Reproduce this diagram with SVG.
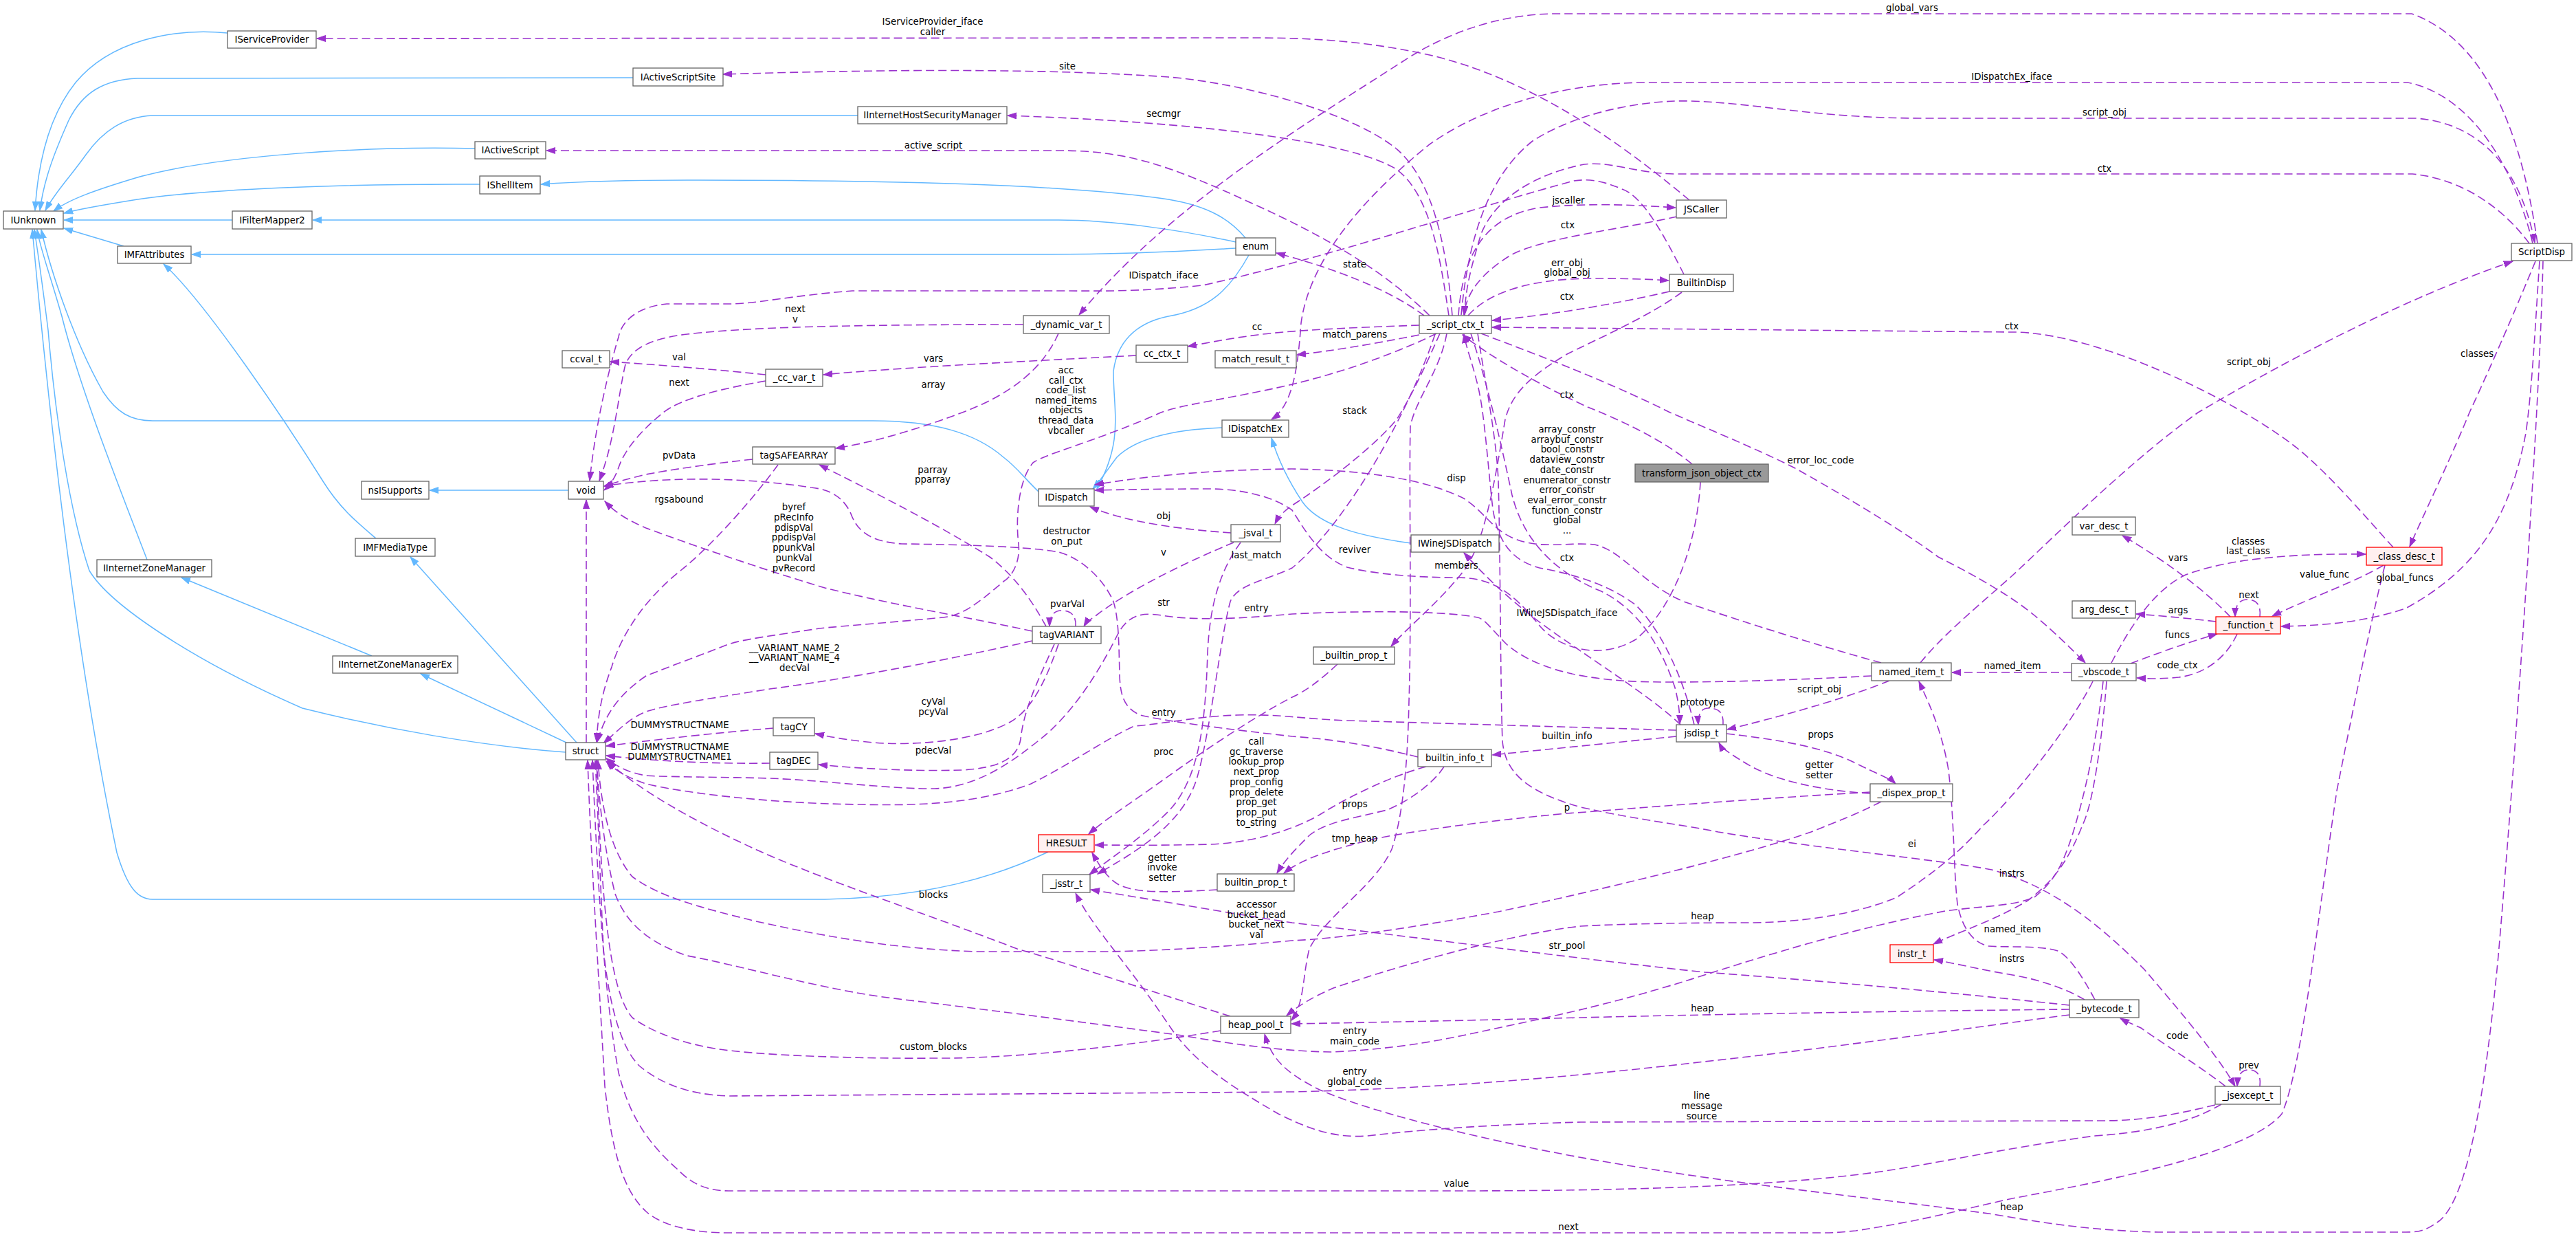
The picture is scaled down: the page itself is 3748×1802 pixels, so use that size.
<svg xmlns="http://www.w3.org/2000/svg" width="3748" height="1802" viewBox="0 0 3748 1802">
<style>
.nd rect{fill:#fff;stroke:#666;stroke-width:1.3}
.rd rect{fill:#fff0f0;stroke:#f00;stroke-width:1.3}
.gd rect{fill:#999;stroke:#666;stroke-width:1.3}
text{font-family:"DejaVu Sans",sans-serif;font-size:13.33px;fill:#000;text-anchor:middle}
.u{fill:none;stroke:#9a32cd;stroke-width:1.6;stroke-dasharray:12,6;marker-end:url(#ap)}
.i{fill:none;stroke:#63b8ff;stroke-width:1.5;marker-end:url(#ab)}
</style>
<defs>
<marker id="ap" markerUnits="userSpaceOnUse" markerWidth="14" markerHeight="10" viewBox="0 0 14 10" refX="13" refY="5" orient="auto"><path d="M0,0.5 L13,5 L0,9.5 z" fill="#9a32cd" stroke="#9a32cd" stroke-width="1"/></marker>
<marker id="ab" markerUnits="userSpaceOnUse" markerWidth="14" markerHeight="10" viewBox="0 0 14 10" refX="13" refY="5" orient="auto"><path d="M0,0.5 L13,5 L0,9.5 z" fill="#63b8ff" stroke="#63b8ff" stroke-width="1"/></marker>
</defs>
<rect width="3748" height="1802" fill="#fff"/>
<g id="edges">
<path class="i" d="M331,48 C250,40 160,60 110,120 C70,170 55,240 51,306"/>
<path class="i" d="M921,113 L200,114 C150,116 120,135 100,175 C80,220 64,260 58,306"/>
<path class="i" d="M1248,168 L222,168 C180,170 150,190 125,225 C100,260 80,280 66,306"/>
<path class="i" d="M691,216 C540,212 320,225 200,258 C140,276 100,290 78,307"/>
<path class="i" d="M698,268 C500,267 300,275 200,290 C150,298 115,304 93,310"/>
<path class="i" d="M338,320 L93,320"/>
<path class="i" d="M180,358 L93,332"/>
<path class="i" d="M1812,346 C1790,320 1760,300 1700,290 C1550,268 1300,262 1000,262 C900,262 830,265 787,268"/>
<path class="i" d="M1798,352 C1720,335 1620,320 1540,320 L455,320"/>
<path class="i" d="M1798,361 C1700,367 1600,370 1520,370 L279,370"/>
<path class="i" d="M547,783 C520,760 495,740 470,700 C420,620 300,440 238,384"/>
<path class="i" d="M839,1080 L597,810"/>
<path class="i" d="M824,1080 L612,980"/>
<path class="i" d="M541,954 L264,840"/>
<path class="i" d="M214,814 C170,700 115,560 90,460 C70,390 58,360 54,334"/>
<path class="i" d="M823,1094 C700,1085 560,1060 440,1030 C280,960 160,880 130,830 C100,740 80,600 70,480 C60,400 54,360 50,334"/>
<path class="i" d="M1511,715 C1490,695 1480,680 1460,665 C1420,630 1360,612 1270,612 L222,612 C190,612 170,600 150,570 C110,500 75,400 60,334"/>
<path class="i" d="M1525,1239 C1450,1275 1350,1305 1200,1308 L222,1308 C200,1308 185,1290 170,1240 C120,1000 80,700 47,334"/>
<path class="i" d="M1778,622 C1700,625 1650,640 1625,665 C1610,685 1600,700 1590,711"/>
<path class="i" d="M1817,371 C1790,420 1760,450 1700,460 C1650,470 1625,500 1620,540 C1620,600 1635,640 1596,711"/>
<path class="i" d="M2053,790 C1980,780 1920,765 1895,730 C1875,700 1860,670 1850,637"/>
<path class="i" d="M827,713 L625,713"/>

<path class="u" d="M2458,291 C2390,235 2250,120 2080,80 C1980,58 1900,55 1820,55 L461,56"/>
<path class="u" d="M2113,459 C2105,360 2085,260 2030,215 C1960,160 1800,120 1700,112 C1500,98 1250,102 1052,108"/>
<path class="u" d="M2108,459 C2095,370 2080,280 2030,245 C1960,205 1750,178 1466,168"/>
<path class="u" d="M2080,459 C2010,390 1920,340 1820,295 C1700,240 1640,219 1540,219 L795,219"/>
<path class="u" d="M2122,459 C2128,370 2160,315 2240,302 C2320,294 2390,299 2438,302"/>
<path class="u" d="M2440,315 C2350,335 2250,345 2200,370 C2150,400 2133,430 2130,458"/>
<path class="u" d="M2136,459 C2170,420 2240,406 2310,405 C2370,405 2400,406 2428,408"/>
<path class="u" d="M2429,424 C2350,442 2260,458 2171,466"/>
<path class="u" d="M2450,399 C2420,340 2390,285 2360,275 C2330,262 2310,260 2290,263 C2150,300 1950,370 1750,415 C1650,425 1600,423 1540,423 L1240,423 C1150,430 1100,442 1060,442 L970,442 C930,446 905,465 900,490 C885,540 866,620 858,699"/>
<path class="u" d="M2072,459 C2020,420 1940,390 1857,368"/>
<path class="u" d="M2065,473 C1980,476 1880,480 1830,487 C1790,492 1760,498 1728,504"/>
<path class="u" d="M2065,487 C2000,500 1940,510 1887,516"/>
<path class="u" d="M2090,485 C2040,510 1960,540 1880,559 C1790,580 1720,588 1689,600 C1600,640 1520,660 1503,673 C1480,700 1478,760 1482,791 C1485,820 1470,840 1461,845 C1420,880 1400,895 1372,898 C1300,905 1230,910 1192,914 C1120,925 1080,930 1060,937 C1000,960 960,975 940,983 C900,1010 880,1040 869,1079"/>
<path class="u" d="M2095,485 C2075,530 2052,580 2032,610 C2000,650 1920,710 1880,735 C1866,745 1860,752 1855,762"/>
<path class="u" d="M2462,675 C2420,640 2360,612 2310,592 C2240,560 2170,520 2128,487"/>
<path class="u" d="M2474,701 C2470,780 2440,880 2380,930 C2330,960 2270,945 2240,910 C2200,860 2170,840 2120,840 C2060,840 2000,835 1960,825 C1920,810 1898,770 1880,742 C1850,720 1800,711 1760,711 C1700,711 1640,712 1593,713"/>
<path class="u" d="M3692,354 C3670,200 3620,60 3509,20 L2264,20 C2180,20 2100,50 2040,90 C1900,180 1700,300 1570,458"/>
<path class="u" d="M3685,354 C3660,250 3600,140 3503,120 L2390,120 C2260,122 2150,160 2080,210 C1980,290 1905,380 1893,470 C1888,540 1880,590 1850,610"/>
<path class="u" d="M2126,458 C2135,360 2160,260 2230,205 C2300,160 2400,145 2460,147 C2560,150 2640,172 2800,172 L3515,172 C3620,180 3670,260 3688,353"/>
<path class="u" d="M3680,354 C3640,300 3580,260 3510,253 L2440,253 C2380,253 2340,232 2300,240 C2230,255 2175,290 2155,340 C2140,390 2132,420 2131,458"/>
<path class="u" d="M3482,796 C3440,750 3390,690 3340,650 C3250,580 3050,483 2928,483 L2171,476"/>
<path class="u" d="M2794,964 C2830,920 2880,880 2928,837 C3000,770 3100,670 3198,600 C3300,540 3480,440 3656,380"/>
<path class="u" d="M3689,380 C3660,450 3630,520 3593,600 C3560,680 3530,740 3506,795"/>
<path class="u" d="M3695,380 C3690,450 3685,560 3675,630 C3650,760 3600,830 3500,885 C3440,905 3380,910 3319,911"/>
<path class="u" d="M3700,380 C3695,600 3660,1100 3635,1390 C3615,1600 3590,1740 3550,1775 C3530,1790 3520,1792 3500,1792 L3140,1792 C3050,1790 2980,1780 2900,1766 C2750,1745 2550,1725 2400,1700 C2200,1670 2000,1620 1920,1585 C1870,1560 1850,1540 1840,1504"/>
<path class="u" d="M3470,822 C3450,900 3420,1050 3400,1150 C3370,1350 3350,1550 3320,1620 C3270,1680 3050,1720 2928,1743 C2850,1760 2800,1775 2700,1790 C2680,1792 2670,1793 2650,1793 L1060,1793 C1000,1793 960,1780 940,1762 C905,1730 890,1670 880,1580 C870,1400 860,1250 855,1106"/>
<path class="u" d="M3232,1606 C3200,1625 3150,1645 3048,1652 C2950,1665 2850,1685 2780,1697 C2650,1720 2450,1732 2120,1732 L1060,1732 C1020,1732 1000,1715 985,1700 C940,1660 915,1620 900,1560 C880,1450 870,1300 862,1106"/>
<path class="u" d="M3223,1607 C3170,1620 3120,1630 3060,1630 L2300,1632 C2150,1636 2050,1645 1990,1652 C1940,1656 1900,1640 1860,1620 C1800,1585 1740,1550 1700,1490 C1640,1400 1590,1350 1565,1299"/>
<path class="u" d="M1790,1478 C1700,1450 1550,1400 1480,1380 C1350,1330 1200,1280 1110,1240 C1020,1200 930,1150 884,1107"/>
<path class="u" d="M853,1080 L853,727"/>
<path class="u" d="M1776,1499 C1650,1520 1480,1540 1360,1539 C1250,1540 1100,1535 1040,1525 C980,1515 940,1495 920,1480 C885,1440 875,1300 868,1106"/>
<path class="u" d="M2737,1166 C2700,1185 2660,1200 2635,1210 C2550,1240 2350,1290 2180,1326 C2050,1350 1950,1365 1880,1368 C1750,1380 1650,1384 1600,1384 L1420,1384 C1300,1380 1200,1362 1100,1340 C1020,1320 960,1305 920,1275 C890,1240 875,1180 870,1106"/>
<path class="u" d="M2721,1152 C2500,1165 2350,1178 2280,1183 C2150,1195 2050,1210 2000,1220 C1940,1235 1895,1248 1868,1270"/>
<path class="u" d="M3011,1462 C2900,1450 2700,1430 2480,1414 C2300,1395 2100,1368 1880,1342 C1800,1330 1700,1312 1587,1294"/>
<path class="u" d="M3011,1468 C2800,1470 2500,1475 2300,1480 C2100,1485 1950,1488 1879,1489"/>
<path class="u" d="M3011,1476 C2900,1490 2700,1520 2480,1544 C2300,1565 2100,1583 1880,1588 L1060,1594 C1000,1592 960,1575 930,1550 C900,1520 885,1450 878,1380 C872,1250 870,1180 866,1106"/>
<path class="u" d="M3060,991 C3050,1080 3035,1150 3015,1215 C3000,1260 2990,1280 2960,1305 C2930,1318 2880,1318 2830,1325 C2700,1350 2600,1380 2480,1418 C2350,1460 2250,1480 2180,1495 C2100,1512 2050,1524 1940,1530 C1880,1530 1800,1520 1720,1506 C1600,1490 1450,1470 1300,1452 C1200,1440 1080,1405 1000,1390 C940,1370 910,1340 895,1300 C880,1240 872,1170 868,1106"/>
<path class="u" d="M3045,991 C3010,1060 2930,1160 2886,1200 C2850,1240 2820,1265 2760,1305 C2700,1330 2620,1342 2540,1342 C2450,1342 2350,1344 2300,1347 C2200,1358 2050,1400 1940,1437 C1910,1450 1890,1462 1872,1477"/>
<path class="u" d="M3065,991 C3058,1080 3045,1170 3030,1200 C3010,1250 2990,1280 2950,1310 C2900,1340 2850,1355 2813,1373"/>
<path class="u" d="M3033,1454 C3010,1440 2970,1425 2928,1418 C2880,1410 2840,1400 2814,1396"/>
<path class="u" d="M3048,1454 C3030,1420 3010,1390 2994,1383 C2970,1375 2920,1378 2892,1376 C2870,1370 2855,1350 2848,1315 C2842,1260 2844,1200 2835,1120 C2825,1060 2805,1020 2792,991"/>
<path class="u" d="M3238,1580 C3200,1550 3150,1520 3115,1495 C3100,1488 3092,1485 3085,1481"/>
<path class="u" d="M3288,1580 C3290,1565 3285,1556 3272,1556 C3262,1556 3256,1562 3255,1580"/>
<path class="u" d="M2150,485 C2160,550 2178,640 2180,700 C2183,800 2183,1000 2186,1078 C2190,1120 2215,1150 2300,1174 C2380,1192 2440,1198 2500,1210 C2650,1235 2820,1250 2898,1265 C2990,1290 3060,1350 3120,1410 C3180,1480 3230,1540 3252,1580"/>
<path class="u" d="M2155,485 C2220,510 2330,550 2430,600 C2500,630 2560,655 2610,680 C2700,730 2780,780 2820,810 C2880,840 2930,870 2960,895 C2990,920 3015,945 3034,964"/>
<path class="u" d="M2447,425 C2400,460 2320,495 2280,515 C2230,545 2200,570 2190,610 C2175,700 2160,790 2130,830 C2090,880 2050,910 2024,940"/>
<path class="u" d="M1771,1294 C1700,1298 1650,1300 1625,1285 C1610,1275 1600,1260 1589,1240"/>
<path class="u" d="M1946,966 C1920,990 1900,1005 1880,1014 C1820,1045 1740,1100 1690,1136 C1650,1165 1610,1190 1584,1213"/>
<path class="u" d="M2075,1115 C2020,1130 1960,1160 1920,1185 C1880,1208 1820,1226 1760,1228 C1680,1230 1630,1229 1593,1229"/>
<path class="u" d="M2101,1115 C2085,1140 2050,1165 2018,1178 C1970,1190 1930,1195 1905,1215 C1885,1235 1870,1250 1858,1270"/>
<path class="u" d="M2105,485 C2095,540 2060,580 2052,620 C2050,700 2054,900 2050,1020 C2048,1120 2040,1190 2025,1235 C2000,1290 1930,1330 1905,1380 C1895,1420 1898,1460 1879,1484"/>
<path class="u" d="M2445,1054 C2410,1020 2340,975 2290,940 C2230,900 2180,860 2130,804"/>
<path class="u" d="M2140,485 C2165,560 2185,650 2200,720 C2220,800 2280,840 2330,860 C2390,890 2420,950 2437,1000 C2442,1020 2444,1035 2444,1053"/>
<path class="u" d="M2465,1054 C2450,990 2420,920 2380,880 C2340,850 2290,835 2240,826 C2200,815 2180,790 2172,740 C2165,680 2160,600 2150,560 C2140,520 2133,505 2130,486"/>
<path class="u" d="M2749,990 C2700,1010 2620,1035 2513,1061"/>
<path class="u" d="M2439,1071 C2350,1080 2250,1090 2171,1098"/>
<path class="u" d="M2512,1067 C2580,1075 2650,1085 2700,1110 C2730,1125 2750,1132 2758,1140"/>
<path class="u" d="M2721,1154 C2650,1150 2580,1135 2540,1110 C2515,1095 2505,1088 2501,1080"/>
<path class="u" d="M2507,1054 C2508,1035 2500,1030 2485,1030 C2475,1030 2470,1040 2471,1054"/>
<path class="u" d="M2737,964 C2650,940 2540,906 2450,875 C2390,850 2360,800 2320,792 C2280,788 2240,800 2200,782 C2170,768 2160,745 2130,725 C2080,700 2000,684 1880,682 C1780,683 1680,690 1593,705"/>
<path class="u" d="M2723,983 C2600,990 2420,995 2360,990 C2290,985 2230,970 2192,937 C2170,915 2160,900 2150,898 C2100,888 1980,888 1880,893 C1800,900 1740,903 1690,895 C1660,890 1640,895 1625,925 C1600,975 1560,1040 1510,1078 C1470,1110 1420,1145 1360,1147 C1300,1148 1200,1135 1120,1132 C1050,1130 960,1130 940,1128 C915,1124 900,1116 882,1103"/>
<path class="u" d="M2439,1062 C2300,1058 2100,1052 1960,1048 C1900,1046 1860,1038 1800,1040 C1740,1042 1700,1052 1650,1056 C1600,1080 1560,1110 1500,1140 C1420,1170 1330,1172 1250,1170 C1100,1168 980,1150 940,1140 C910,1130 895,1120 882,1107"/>
<path class="u" d="M2063,1101 C2000,1085 1940,1075 1880,1071 C1800,1062 1700,1050 1659,1040 C1635,1030 1630,1010 1629,983 C1628,940 1628,900 1620,875 C1605,840 1570,810 1540,803 C1500,795 1400,792 1312,791 C1270,788 1250,775 1240,752 C1230,725 1210,712 1180,709 C1120,700 1060,696 1000,697 C950,698 910,702 879,707"/>
<path class="u" d="M1791,775 C1720,770 1640,760 1586,737"/>
<path class="u" d="M1795,789 C1720,820 1640,860 1595,895 C1585,902 1580,906 1577,911"/>
<path class="u" d="M1805,789 C1775,830 1760,880 1757,950 C1754,1040 1748,1130 1700,1180 C1660,1220 1620,1245 1585,1272"/>
<path class="u" d="M2088,486 C2050,600 1960,760 1880,826 C1840,845 1800,850 1790,875 C1775,930 1762,1060 1742,1130 C1722,1200 1650,1240 1597,1271"/>
<path class="u" d="M1502,918 C1420,900 1300,880 1200,855 C1100,825 1000,790 940,768 C910,755 895,745 880,729"/>
<path class="u" d="M1502,932 C1400,955 1250,985 1120,1002 C1040,1015 970,1025 940,1035 C915,1045 900,1062 878,1081"/>
<path class="u" d="M1540,937 C1525,980 1505,1030 1470,1050 C1420,1078 1330,1085 1270,1080 C1230,1076 1210,1072 1186,1067"/>
<path class="u" d="M1534,937 C1510,990 1490,1030 1485,1075 C1480,1105 1450,1117 1400,1120 C1330,1122 1250,1118 1191,1112"/>
<path class="u" d="M1522,911 C1505,880 1480,840 1440,810 C1360,760 1260,710 1192,676"/>
<path class="u" d="M1565,911 C1566,895 1558,888 1545,888 C1533,888 1527,896 1527,911"/>
<path class="u" d="M1095,668 C1030,675 970,684 940,690 C910,697 895,702 879,707"/>
<path class="u" d="M1132,676 C1100,720 1040,790 990,830 C940,870 905,920 890,970 C875,1010 870,1040 868,1079"/>
<path class="u" d="M1125,1059 C1050,1065 960,1075 882,1085"/>
<path class="u" d="M1120,1110 C1050,1111 960,1108 882,1099"/>
<path class="u" d="M3245,897 C3210,860 3150,815 3088,779"/>
<path class="u" d="M3224,904 C3190,900 3150,896 3108,893"/>
<path class="u" d="M3288,897 C3290,880 3283,872 3270,872 C3258,872 3252,880 3252,897"/>
<path class="u" d="M3468,822 C3430,845 3360,870 3306,896"/>
<path class="u" d="M3072,964 C3095,920 3130,860 3180,836 C3250,810 3350,805 3442,806"/>
<path class="u" d="M3100,965 C3140,950 3180,935 3226,922"/>
<path class="u" d="M3255,922 C3240,955 3210,980 3170,985 C3140,988 3125,987 3109,986"/>
<path class="u" d="M3014,978 L2840,978"/>
<path class="u" d="M1653,517 C1500,525 1300,535 1198,545"/>
<path class="u" d="M1114,545 C1050,538 950,530 888,526"/>
<path class="u" d="M1114,554 C1050,565 990,580 965,600 C940,620 910,650 900,680 C895,695 888,705 879,713"/>
<path class="u" d="M1489,472 C1300,472 1100,474 1000,486 C950,492 920,505 910,530 C900,570 895,640 872,699"/>
<path class="u" d="M1540,485 C1520,530 1480,570 1400,600 C1320,630 1260,645 1216,652"/>

<text x="1357" y="36">IServiceProvider_iface<tspan x="1357" dy="14.9">caller</tspan></text>
<text x="1553" y="101">site</text>
<text x="1693" y="170">secmgr</text>
<text x="1358" y="216">active_script</text>
<text x="1693" y="405">IDispatch_iface</text>
<text x="1157" y="454">next<tspan x="1157" dy="15">v</tspan></text>
<text x="1829" y="480">cc</text>
<text x="988" y="524">val</text>
<text x="988" y="561">next</text>
<text x="1358" y="526">vars</text>
<text x="1358" y="564">array</text>
<text x="1551" y="543">acc<tspan x="1551" dy="14.6">call_ctx</tspan><tspan x="1551" dy="14.6">code_list</tspan><tspan x="1551" dy="14.6">named_items</tspan><tspan x="1551" dy="14.6">objects</tspan><tspan x="1551" dy="14.6">thread_data</tspan><tspan x="1551" dy="14.6">vbcaller</tspan></text>
<text x="2782" y="16">global_vars</text>
<text x="2282" y="296">jscaller</text>
<text x="2281" y="332">ctx</text>
<text x="2280" y="387">err_obj<tspan x="2280" dy="14.3">global_obj</tspan></text>
<text x="2280" y="436">ctx</text>
<text x="1971" y="389">state</text>
<text x="1971" y="491">match_parens</text>
<text x="1971" y="602">stack</text>
<text x="2280" y="579">ctx</text>
<text x="2927" y="116">IDispatchEx_iface</text>
<text x="3062" y="168">script_obj</text>
<text x="3062" y="250">ctx</text>
<text x="2927" y="479">ctx</text>
<text x="3272" y="531">script_obj</text>
<text x="3604" y="519">classes</text>
<text x="3499" y="845">global_funcs</text>
<text x="988" y="667">pvData</text>
<text x="988" y="731">rgsabound</text>
<text x="1357" y="688">parray<tspan x="1357" dy="14.3">pparray</tspan></text>
<text x="1155" y="742">byref<tspan x="1155" dy="14.8">pRecInfo</tspan><tspan x="1155" dy="14.8">pdispVal</tspan><tspan x="1155" dy="14.8">ppdispVal</tspan><tspan x="1155" dy="14.8">ppunkVal</tspan><tspan x="1155" dy="14.8">punkVal</tspan><tspan x="1155" dy="14.8">pvRecord</tspan></text>
<text x="1552" y="777">destructor<tspan x="1552" dy="14.9">on_put</tspan></text>
<text x="1693" y="755">obj</text>
<text x="1693" y="808">v</text>
<text x="1828" y="812">last_match</text>
<text x="1553" y="883">pvarVal</text>
<text x="1693" y="881">str</text>
<text x="1828" y="889">entry</text>
<text x="1156" y="947">__VARIANT_NAME_2<tspan x="1156" dy="14.3">__VARIANT_NAME_4</tspan><tspan x="1156" dy="14.3">decVal</tspan></text>
<text x="1358" y="1025">cyVal<tspan x="1358" dy="15.3">pcyVal</tspan></text>
<text x="1693" y="1041">entry</text>
<text x="989" y="1059">DUMMYSTRUCTNAME</text>
<text x="989" y="1091">DUMMYSTRUCTNAME<tspan x="989" dy="13.8">DUMMYSTRUCTNAME1</tspan></text>
<text x="1358" y="1096">pdecVal</text>
<text x="1693" y="1098">proc</text>
<text x="1828" y="1083">call<tspan x="1828" dy="14.7">gc_traverse</tspan><tspan x="1828" dy="14.7">lookup_prop</tspan><tspan x="1828" dy="14.7">next_prop</tspan><tspan x="1828" dy="14.7">prop_config</tspan><tspan x="1828" dy="14.7">prop_delete</tspan><tspan x="1828" dy="14.7">prop_get</tspan><tspan x="1828" dy="14.7">prop_put</tspan><tspan x="1828" dy="14.7">to_string</tspan></text>
<text x="2280" y="629">array_constr<tspan x="2280" dy="14.7">arraybuf_constr</tspan><tspan x="2280" dy="14.7">bool_constr</tspan><tspan x="2280" dy="14.7">dataview_constr</tspan><tspan x="2280" dy="14.7">date_constr</tspan><tspan x="2280" dy="14.7">enumerator_constr</tspan><tspan x="2280" dy="14.7">error_constr</tspan><tspan x="2280" dy="14.7">eval_error_constr</tspan><tspan x="2280" dy="14.7">function_constr</tspan><tspan x="2280" dy="14.7">global</tspan><tspan x="2280" dy="14.7">...</tspan></text>
<text x="2119" y="700">disp</text>
<text x="1971" y="804">reviver</text>
<text x="2280" y="816">ctx</text>
<text x="2119" y="827">members</text>
<text x="2280" y="896">IWineJSDispatch_iface</text>
<text x="2649" y="674">error_loc_code</text>
<text x="2477" y="1026">prototype</text>
<text x="2647" y="1007">script_obj</text>
<text x="2280" y="1075">builtin_info</text>
<text x="2649" y="1073">props</text>
<text x="2647" y="1117">getter<tspan x="2647" dy="14.6">setter</tspan></text>
<text x="1971" y="1174">props</text>
<text x="2280" y="1179">p</text>
<text x="3271" y="792">classes<tspan x="3271" dy="13.7">last_class</tspan></text>
<text x="3169" y="816">vars</text>
<text x="3382" y="840">value_func</text>
<text x="3272" y="870">next</text>
<text x="3169" y="892">args</text>
<text x="3168" y="928">funcs</text>
<text x="2928" y="973">named_item</text>
<text x="3168" y="972">code_ctx</text>
<text x="1691" y="1252">getter<tspan x="1691" dy="14.3">invoke</tspan><tspan x="1691" dy="14.3">setter</tspan></text>
<text x="1358" y="1306">blocks</text>
<text x="1828" y="1320">accessor<tspan x="1828" dy="14.6">bucket_head</tspan><tspan x="1828" dy="14.6">bucket_next</tspan><tspan x="1828" dy="14.6">val</tspan></text>
<text x="1358" y="1527">custom_blocks</text>
<text x="1971" y="1224">tmp_heap</text>
<text x="2782" y="1232">ei</text>
<text x="2477" y="1337">heap</text>
<text x="2280" y="1380">str_pool</text>
<text x="2477" y="1471">heap</text>
<text x="1971" y="1504">entry<tspan x="1971" dy="15">main_code</tspan></text>
<text x="1971" y="1563">entry<tspan x="1971" dy="14.5">global_code</tspan></text>
<text x="2476" y="1598">line<tspan x="2476" dy="14.8">message</tspan><tspan x="2476" dy="14.8">source</tspan></text>
<text x="2119" y="1726">value</text>
<text x="2282" y="1789">next</text>
<text x="2927" y="1275">instrs</text>
<text x="2928" y="1356">named_item</text>
<text x="2927" y="1399">instrs</text>
<text x="3168" y="1511">code</text>
<text x="3272" y="1554">prev</text>
<text x="2927" y="1760">heap</text>
</g>

<g id="IServiceProvider" class="nd"><rect x="331" y="45" width="129" height="25"/><text x="395.5" y="62">IServiceProvider</text></g>
<g id="IActiveScriptSite" class="nd"><rect x="921" y="99" width="131" height="26"/><text x="986.5" y="116.5">IActiveScriptSite</text></g>
<g id="IInternetHostSecurityManager" class="nd"><rect x="1248" y="155" width="217" height="25"/><text x="1356.5" y="172">IInternetHostSecurityManager</text></g>
<g id="IActiveScript" class="nd"><rect x="691" y="206" width="103" height="25"/><text x="742.5" y="223">IActiveScript</text></g>
<g id="IShellItem" class="nd"><rect x="698" y="256" width="88" height="26"/><text x="742" y="273.5">IShellItem</text></g>
<g id="IUnknown" class="nd"><rect x="5" y="307" width="87" height="26"/><text x="48.5" y="324.5">IUnknown</text></g>
<g id="IFilterMapper2" class="nd"><rect x="338" y="307" width="116" height="26"/><text x="396" y="324.5">IFilterMapper2</text></g>
<g id="IMFAttributes" class="nd"><rect x="171" y="358" width="107" height="25"/><text x="224.5" y="375">IMFAttributes</text></g>
<g id="enum" class="nd"><rect x="1798" y="346" width="58" height="25"/><text x="1827" y="363">enum</text></g>
<g id="ccval_t" class="nd"><rect x="818" y="510" width="69" height="25"/><text x="852.5" y="527">ccval_t</text></g>
<g id="_dynamic_var_t" class="nd"><rect x="1489" y="459" width="125" height="26"/><text x="1551.5" y="476.5">_dynamic_var_t</text></g>
<g id="_cc_var_t" class="nd"><rect x="1114" y="537" width="83" height="25"/><text x="1155.5" y="554">_cc_var_t</text></g>
<g id="cc_ctx_t" class="nd"><rect x="1653" y="502" width="75" height="25"/><text x="1690.5" y="519">cc_ctx_t</text></g>
<g id="match_result_t" class="nd"><rect x="1768" y="510" width="118" height="25"/><text x="1827" y="527">match_result_t</text></g>
<g id="_script_ctx_t" class="nd"><rect x="2065" y="459" width="105" height="26"/><text x="2117.5" y="476.5">_script_ctx_t</text></g>
<g id="JSCaller" class="nd"><rect x="2439" y="291" width="73" height="26"/><text x="2475.5" y="308.5">JSCaller</text></g>
<g id="BuiltinDisp" class="nd"><rect x="2429" y="399" width="93" height="25"/><text x="2475.5" y="416">BuiltinDisp</text></g>
<g id="ScriptDisp" class="nd"><rect x="3654" y="354" width="88" height="25"/><text x="3698" y="371">ScriptDisp</text></g>
<g id="nsISupports" class="nd"><rect x="526" y="700" width="98" height="26"/><text x="575" y="717.5">nsISupports</text></g>
<g id="void" class="nd"><rect x="827" y="700" width="51" height="26"/><text x="852.5" y="717.5">void</text></g>
<g id="IMFMediaType" class="nd"><rect x="517" y="783" width="116" height="26"/><text x="575" y="800.5">IMFMediaType</text></g>
<g id="IInternetZoneManager" class="nd"><rect x="141" y="814" width="167" height="25"/><text x="224.5" y="831">IInternetZoneManager</text></g>
<g id="IInternetZoneManagerEx" class="nd"><rect x="484" y="954" width="182" height="25"/><text x="575" y="971">IInternetZoneManagerEx</text></g>
<g id="struct" class="nd"><rect x="823" y="1080" width="58" height="25"/><text x="852" y="1097">struct</text></g>
<g id="tagSAFEARRAY" class="nd"><rect x="1095" y="650" width="120" height="25"/><text x="1155" y="667">tagSAFEARRAY</text></g>
<g id="IDispatch" class="nd"><rect x="1511" y="711" width="81" height="25"/><text x="1551.5" y="728">IDispatch</text></g>
<g id="IDispatchEx" class="nd"><rect x="1778" y="611" width="97" height="25"/><text x="1826.5" y="628">IDispatchEx</text></g>
<g id="_jsval_t" class="nd"><rect x="1791" y="763" width="72" height="25"/><text x="1827" y="780">_jsval_t</text></g>
<g id="tagVARIANT" class="nd"><rect x="1502" y="911" width="100" height="25"/><text x="1552" y="928">tagVARIANT</text></g>
<g id="tagCY" class="nd"><rect x="1125" y="1044" width="60" height="26"/><text x="1155" y="1061.5">tagCY</text></g>
<g id="tagDEC" class="nd"><rect x="1120" y="1094" width="70" height="25"/><text x="1155" y="1111">tagDEC</text></g>
<g id="transform_json_object_ctx" class="gd"><rect x="2379" y="675" width="194" height="26"/><text x="2476" y="692.5">transform_json_object_ctx</text></g>
<g id="IWineJSDispatch" class="nd"><rect x="2053" y="778" width="128" height="25"/><text x="2117" y="795">IWineJSDispatch</text></g>
<g id="_builtin_prop_t" class="nd"><rect x="1911" y="941" width="118" height="25"/><text x="1970" y="958">_builtin_prop_t</text></g>
<g id="jsdisp_t" class="nd"><rect x="2439" y="1054" width="73" height="25"/><text x="2475.5" y="1071">jsdisp_t</text></g>
<g id="builtin_info_t" class="nd"><rect x="2063" y="1090" width="107" height="25"/><text x="2116.5" y="1107">builtin_info_t</text></g>
<g id="named_item_t" class="nd"><rect x="2723" y="964" width="116" height="26"/><text x="2781" y="981.5">named_item_t</text></g>
<g id="_dispex_prop_t" class="nd"><rect x="2721" y="1140" width="120" height="26"/><text x="2781" y="1157.5">_dispex_prop_t</text></g>
<g id="var_desc_t" class="nd"><rect x="3015" y="752" width="92" height="26"/><text x="3061" y="769.5">var_desc_t</text></g>
<g id="_class_desc_t" class="rd"><rect x="3443" y="796" width="110" height="26"/><text x="3498" y="813.5">_class_desc_t</text></g>
<g id="arg_desc_t" class="nd"><rect x="3015" y="874" width="92" height="25"/><text x="3061" y="891">arg_desc_t</text></g>
<g id="_function_t" class="rd"><rect x="3224" y="897" width="94" height="25"/><text x="3271" y="914">_function_t</text></g>
<g id="_vbscode_t" class="nd"><rect x="3014" y="965" width="94" height="25"/><text x="3061" y="982">_vbscode_t</text></g>
<g id="HRESULT" class="rd"><rect x="1511" y="1214" width="81" height="25"/><text x="1551.5" y="1231">HRESULT</text></g>
<g id="_jsstr_t" class="nd"><rect x="1517" y="1272" width="69" height="26"/><text x="1551.5" y="1289.5">_jsstr_t</text></g>
<g id="builtin_prop_t" class="nd"><rect x="1771" y="1271" width="112" height="25"/><text x="1827" y="1288">builtin_prop_t</text></g>
<g id="heap_pool_t" class="nd"><rect x="1776" y="1478" width="102" height="25"/><text x="1827" y="1495">heap_pool_t</text></g>
<g id="instr_t" class="rd"><rect x="2750" y="1374" width="63" height="26"/><text x="2781.5" y="1391.5">instr_t</text></g>
<g id="_bytecode_t" class="nd"><rect x="3011" y="1454" width="101" height="26"/><text x="3061.5" y="1471.5">_bytecode_t</text></g>
<g id="_jsexcept_t" class="nd"><rect x="3223" y="1580" width="95" height="26"/><text x="3270.5" y="1597.5">_jsexcept_t</text></g>
</svg>
